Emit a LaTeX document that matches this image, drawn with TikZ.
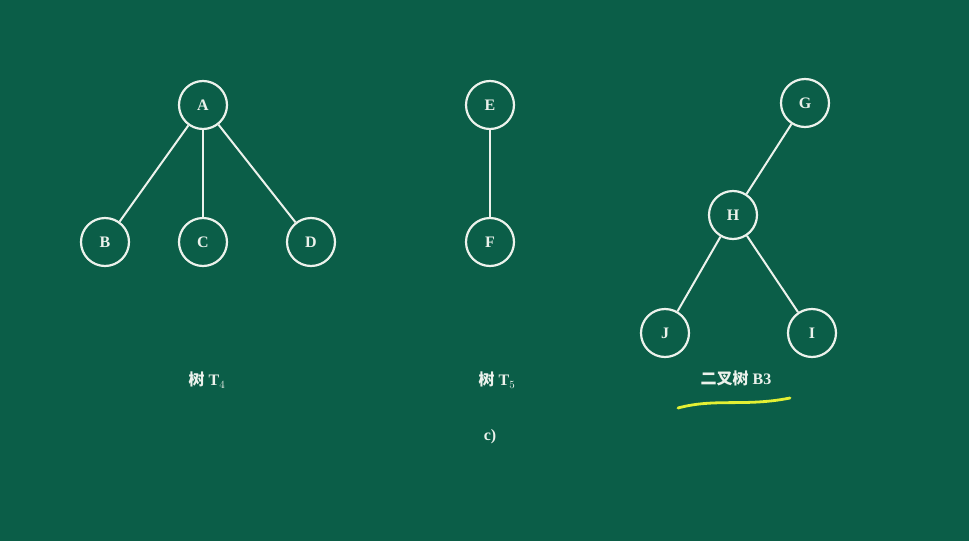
\documentclass[tikz,border=0pt]{standalone}
\usepackage{fontspec}
\setmainfont{Liberation Serif}
\newfontfamily\cjk{Noto Sans CJK SC}
\usepackage{tikz}

\definecolor{board}{RGB}{11,94,72}
\definecolor{chalk}{RGB}{236,242,236}
\definecolor{marker}{RGB}{228,240,52}

\tikzset{
  vertex/.style={circle, draw=chalk, line width=2.2pt, minimum size=48pt, inner sep=0pt,
    text=chalk, font=\fontsize{16}{18}\selectfont\bfseries},
  edge/.style={draw=chalk, line width=2pt},
  caption/.style={text=chalk, font=\fontsize{16}{18}\selectfont\bfseries}
}

\begin{document}
\begin{tikzpicture}[x=1pt, y=-1pt]
			\fill[board] (0,0) rectangle (969,541);
			\useasboundingbox (0,0) rectangle (969,541);
			%%%%%%%%%%%%%%%%%%%%%%%%%%%%%%%%
			\node[vertex] (A) at (203,105){A};
			\node[vertex] (B) at (105,242){B};
			\node[vertex] (C) at (203,242){C};
			\node[vertex] (D) at (311,242){D};
			\draw[edge] (A)--(B);
			\draw[edge] (A)--(C);
			\draw[edge] (A)--(D);
			\node[caption] (t4) at (207,380){{\cjk\bfseries 树} T$_4$};
			%%%%%%%%%%%%%%%%%%%%%%%%%%%%%
			\node[vertex] (E) at (490,105){E};
			\node[vertex] (F) at (490,242){F};
			\draw[edge] (E)--(F);
			\node[caption] (t5) at (497,380){{\cjk\bfseries 树} T$_5$};
			%%%%%%%%%%%%%%%%%%%%%%%%%%%%%
			\node[vertex] (G) at (805,103){G};
			\node[vertex] (H) at (733,215){H};
			\node[vertex] (J) at (665,333){J};
			\node[vertex] (I) at (812,333){I};
			\draw[edge] (G)--(H);
			\draw[edge] (H)--(J);
			\draw[edge] (H)--(I);
			\node[caption] (b3) at (736,378){{\cjk\bfseries 二叉树} B3};
			\draw[marker, line width=2.8pt, line cap=round] (678,408) .. controls (715,398) and (745,407) .. (790,398);
			%%%%%%%%%%%%%%%%%%%%%%%%%%%%%
			\node[caption] (c) at (490,437){c)};
		\end{tikzpicture}
\end{document}
